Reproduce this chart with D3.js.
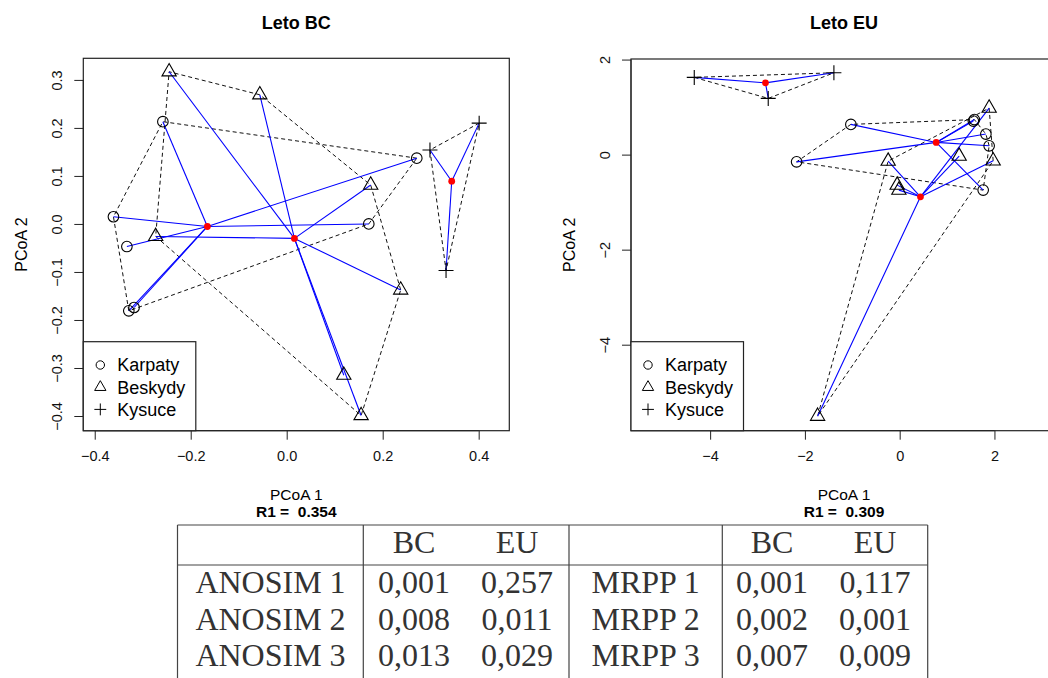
<!DOCTYPE html>
<html>
<head>
<meta charset="utf-8">
<script src="https://cdn.jsdelivr.net/npm/d3@7"></script>
<style>
  body { margin: 0; background: #fff; }
  svg text { font-family: "Liberation Sans", Arial, sans-serif; }
</style>
</head>
<body>
<div id="chart"></div>
<script>
// values (PCoA coordinates)
var groups = ["Karpaty", "Beskydy", "Kysuce"];

var bcKarpaty = [[-0.258, 0.213], [-0.361, 0.015], [-0.333, -0.047], [-0.329, -0.181],
                 [-0.318, -0.174], [0.271, 0.137], [0.171, 0.000]];
var bcBeskydy = [[-0.245, 0.317], [-0.056, 0.269], [-0.273, -0.026], [0.175, 0.081],
                 [0.2375, -0.1375], [0.119, -0.315], [0.155, -0.399]];
var bcKysuce  = [[0.2985, 0.154], [0.401, 0.210], [0.332, -0.097]];

var euKarpaty = [[-2.175, -0.152], [-1.03, 0.636], [1.555, 0.705], [1.576, 0.737],
                 [1.819, 0.432], [1.888, 0.185], [1.762, -0.747]];
var euBeskydy = [[1.888, 0.979], [1.255, -0.032], [1.973, -0.131], [-0.243, -0.137],
                 [-0.053, -0.642], [-0.017, -0.747], [-1.732, -5.505]];
var euKysuce  = [[-4.335, 1.625], [-2.774, 1.183], [-1.388, 1.722]];

var bcXTicks = [-0.4, -0.2, 0, 0.2, 0.4];
var bcYTicks = [-0.4, -0.3, -0.2, -0.1, 0, 0.1, 0.2, 0.3];
var euXTicks = [-4, -2, 0, 2];
var euYTicks = [-4, -2, 0, 2];

var titles = ["Leto BC", "Leto EU"];
var r1Values = ["0.354", "0.309"];

var tableHead = ["BC", "EU"];
var anosimRows = ["ANOSIM 1", "ANOSIM 2", "ANOSIM 3"];
var anosimVals = [["0,001", "0,257"], ["0,008", "0,011"], ["0,013", "0,029"]];
var mrppRows = ["MRPP 1", "MRPP 2", "MRPP 3"];
var mrppVals = [["0,001", "0,117"], ["0,002", "0,001"], ["0,007", "0,009"]];

var W = 1048, H = 678;
var svg = d3.select("#chart").append("svg")
    .attr("width", W).attr("height", H);

var panels = [
  { title: titles[0], data: [bcKarpaty, bcBeskydy, bcKysuce], r1: r1Values[0],
    xDom: [-0.4238, 0.4638], yDom: [-0.4306, 0.345], xr: [83.3, 509.3], yr: [430.7, 58.3],
    xt: bcXTicks, yt: bcYTicks, fmt: d3.format(".1f") },
  { title: titles[1], data: [euKarpaty, euBeskydy, euKysuce], r1: r1Values[1],
    xDom: [-5.67, 3.32], yDom: [-5.81, 2.012], xr: [631, 1057], yr: [430.7, 59],
    xt: euXTicks, yt: euYTicks, fmt: d3.format("d") }
];

// R style symbols: circle, triangle (pch 2), plus (pch 3)
function symbol(g, k, cx, cy, R) {
  if (k == 0) {
    g.append("circle").attr("cx", cx).attr("cy", cy).attr("r", R);
  } else if (k == 1) {
    var r = 1.555 * R, xc = 1.347 * R, yc = 0.778 * R;
    g.append("path").attr("d", "M" + cx + "," + (cy - r) + "L" + (cx + xc) + "," + (cy + yc) +
      "L" + (cx - xc) + "," + (cy + yc) + "Z");
  } else {
    var s = 1.414 * R;
    g.append("path").attr("d", "M" + (cx - s) + "," + cy + "H" + (cx + s) +
      "M" + cx + "," + (cy - s) + "V" + (cy + s));
  }
}

panels.forEach(function(p) {
  var x = d3.scaleLinear().domain(p.xDom).range(p.xr);
  var y = d3.scaleLinear().domain(p.yDom).range(p.yr);
  var g = svg.append("g");
  var x0 = p.xr[0], x1 = p.xr[1], y0 = p.yr[1], y1 = p.yr[0];
  var cxm = (x0 + x1) / 2, cym = (y0 + y1) / 2;

  // axes
  var xa = g.append("g").attr("transform", "translate(0," + y1 + ")")
      .call(d3.axisBottom(x).tickValues(p.xt).tickSize(9).tickSizeOuter(0).tickFormat(p.fmt));
  xa.selectAll("text").attr("y", 20).attr("dy", "0.71em").style("font-size", "14.5px")
      .attr("fill", "#111");
  var ya = g.append("g").attr("transform", "translate(" + x0 + ",0)")
      .call(d3.axisLeft(y).tickValues(p.yt).tickSize(9).tickSizeOuter(0).tickFormat(p.fmt));
  ya.selectAll("text").attr("transform", "rotate(-90)")
      .attr("x", 0).attr("y", -26).attr("dy", "0.35em")
      .attr("text-anchor", "middle").style("font-size", "14.5px").attr("fill", "#111");
  g.selectAll(".domain").remove();
  g.selectAll(".tick line").attr("stroke", "#222");
  // axis lines from first to last tick, like R
  g.append("line").attr("x1", x(d3.min(p.xt))).attr("x2", x(d3.max(p.xt)))
      .attr("y1", y1).attr("y2", y1).attr("stroke", "#222");
  g.append("line").attr("y1", y(d3.min(p.yt))).attr("y2", y(d3.max(p.yt)))
      .attr("x1", x0).attr("x2", x0).attr("stroke", "#222");

  // box
  g.append("rect").attr("x", x0).attr("y", y0).attr("width", x1 - x0).attr("height", y1 - y0)
      .attr("fill", "none").attr("stroke", "#222").attr("stroke-width", 1.2);

  // titles and labels
  g.append("text").attr("x", cxm).attr("y", 29).attr("text-anchor", "middle")
      .style("font-size", "18px").style("font-weight", "bold").text(p.title);
  g.append("text").attr("x", cxm).attr("y", 500).attr("text-anchor", "middle")
      .style("font-size", "15.5px").text("PCoA 1");
  g.append("text").attr("x", cxm).attr("y", 516.5).attr("text-anchor", "middle")
      .style("font-size", "15.5px").style("font-weight", "bold").style("white-space", "pre")
      .text("R1 =  " + p.r1);
  g.append("text").attr("transform", "translate(" + (x0 - 62) + "," + cym + ") rotate(-90)")
      .attr("dy", "0.35em").attr("text-anchor", "middle")
      .style("font-size", "16px").text("PCoA 2");

  // hulls (dashed)
  p.data.forEach(function(pts) {
    var hull = d3.polygonHull(pts.map(function(d) { return [x(d[0]), y(d[1])]; }));
    g.append("path").attr("d", "M" + hull.join("L") + "Z")
        .attr("fill", "none").attr("stroke", "#111").attr("stroke-width", 1)
        .attr("stroke-dasharray", "4,3");
  });

  // spiders
  var cents = p.data.map(function(pts) {
    return [d3.mean(pts, function(d) { return d[0]; }), d3.mean(pts, function(d) { return d[1]; })];
  });
  p.data.forEach(function(pts, i) {
    g.selectAll(null).data(pts).enter().append("line")
        .attr("x1", x(cents[i][0])).attr("y1", y(cents[i][1]))
        .attr("x2", function(d) { return x(d[0]); })
        .attr("y2", function(d) { return y(d[1]); })
        .attr("stroke", "#0000ff").attr("stroke-width", 1.1);
  });

  // points
  var pg = g.append("g").attr("fill", "none").attr("stroke", "#000").attr("stroke-width", 1.1);
  p.data.forEach(function(pts, i) {
    pts.forEach(function(d) { symbol(pg, i, x(d[0]), y(d[1]), 5.3); });
  });

  // centroids
  g.selectAll(null).data(cents).enter().append("circle")
      .attr("cx", function(d) { return x(d[0]); })
      .attr("cy", function(d) { return y(d[1]); })
      .attr("r", 3.4).attr("fill", "#ff0000");

  // legend
  var lg = g.append("g");
  lg.append("rect").attr("x", x0).attr("y", 341.7).attr("width", 112.5).attr("height", y1 - 341.7)
      .attr("fill", "#fff").attr("stroke", "#222").attr("stroke-width", 1.2);
  var lsym = lg.append("g").attr("fill", "none").attr("stroke", "#000").attr("stroke-width", 1);
  groups.forEach(function(name, i) {
    var ly = 365 + i * 22.2;
    symbol(lsym, i, x0 + 17, ly, 4.2);
    lg.append("text").attr("x", x0 + 34).attr("y", ly).attr("dy", "0.35em")
        .style("font-size", "18px").text(name);
  });
});

// table at the bottom
var tcol = [177.5, 363.3, 569, 722.3, 927.7];
var tg = svg.append("g").attr("stroke", "#444").attr("stroke-width", 1.2);
[525, 565].forEach(function(yy) {
  tg.append("line").attr("x1", tcol[0]).attr("x2", tcol[4]).attr("y1", yy).attr("y2", yy);
});
tcol.forEach(function(xx) {
  tg.append("line").attr("x1", xx).attr("x2", xx).attr("y1", 525).attr("y2", H);
});

var serif = '"Liberation Serif", "Times New Roman", serif';
function tText(xx, yy, s) {
  svg.append("text").attr("x", xx).attr("y", yy).attr("text-anchor", "middle")
      .style("font-family", serif).style("font-size", "32px").attr("fill", "#333").text(s);
}
var valX = [[414, 517], [772, 875]];
var rowY = [593, 629.5, 666];
tableHead.forEach(function(h, j) { tText(valX[0][j], 553, h); tText(valX[1][j], 553, h); });
anosimRows.forEach(function(r, i) {
  tText(270.5, rowY[i], r);
  anosimVals[i].forEach(function(v, j) { tText(valX[0][j], rowY[i], v); });
});
mrppRows.forEach(function(r, i) {
  tText(645.6, rowY[i], r);
  mrppVals[i].forEach(function(v, j) { tText(valX[1][j], rowY[i], v); });
});
</script>
</body>
</html>
